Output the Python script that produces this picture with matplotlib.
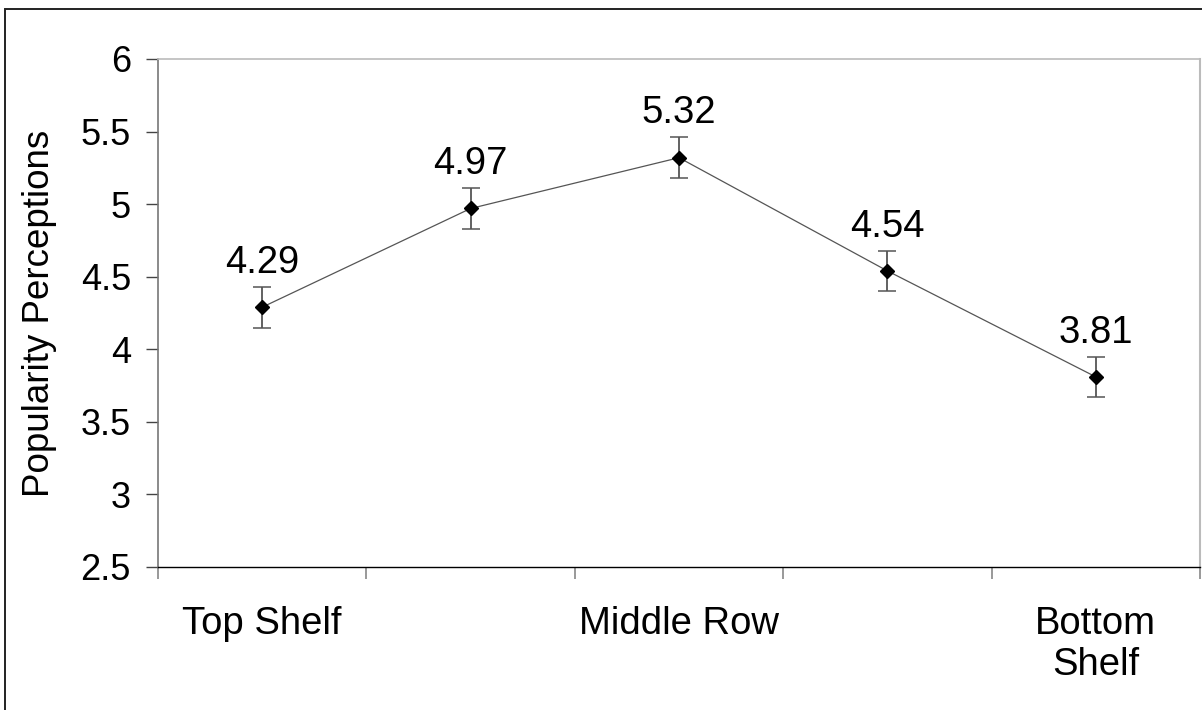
import matplotlib.pyplot as plt
from matplotlib.patches import Rectangle

plt.rcParams['font.family'] = ['Liberation Sans', 'DejaVu Sans']

categories = ["Top Shelf", "", "Middle Row", "", "Bottom\nShelf"]
means = [4.29, 4.97, 5.32, 4.54, 3.81]
errors = [0.14, 0.14, 0.14, 0.14, 0.14]
y_ticks = [2.5, 3, 3.5, 4, 4.5, 5, 5.5, 6]

fig = plt.figure(figsize=(12.02, 7.1), dpi=100)
ax = fig.add_axes([158 / 1202, 1 - 567 / 710, 1042 / 1202, 508 / 710])

x = list(range(len(means)))
ax.plot(x, means, color="#555555", lw=0.9, zorder=2)
ax.errorbar(x, means, yerr=errors, fmt="none", ecolor="#555555",
            elinewidth=1.3, capsize=6.5, capthick=1.1, zorder=3)
ax.plot(x, means, ls="none", marker="D", ms=7.5, color="black", zorder=4)

for xi, m, e in zip(x, means, errors):
    ax.annotate(f"{m:.2f}", (xi, m + e), xytext=(0, 10),
                textcoords="offset points", ha="center", va="baseline",
                fontsize=27.5)

ax.set_xlim(-0.5, len(means) - 0.5)
ax.set_ylim(2.5, 6)
ax.set_yticks(y_ticks)
ax.set_yticklabels([f"{t:g}" for t in y_ticks])
ax.set_xticks([i - 0.5 for i in range(len(means) + 1)])
ax.set_xticklabels([])
ax.set_xticks(x, minor=True)
ax.set_xticklabels(categories, minor=True)
ax.tick_params(axis="x", which="minor", length=0, pad=28, labelsize=27.5)
ax.tick_params(axis="x", which="major", direction="out", length=8.5,
               width=1.2, color="#888888")
ax.tick_params(axis="y", direction="out", length=8.5, width=1.0,
               color="#444444", pad=11, labelsize=26)
ax.set_ylabel("Popularity Perceptions", fontsize=26.5, labelpad=17)

ax.spines["left"].set_color("#777777")
ax.spines["left"].set_linewidth(1.2)
ax.spines["bottom"].set_color("black")
ax.spines["bottom"].set_linewidth(1.0)
ax.spines["top"].set_color("#bbbbbb")
ax.spines["top"].set_linewidth(1.2)
ax.spines["right"].set_color("#bbbbbb")
ax.spines["right"].set_linewidth(1.5)

fig.patches.append(Rectangle((5 / 1202, -0.1), 1.2, 0.1 + 1 - 9 / 710,
                             transform=fig.transFigure, fill=False,
                             edgecolor="#222222", lw=1.4))

fig.savefig("out.png", dpi=100)
